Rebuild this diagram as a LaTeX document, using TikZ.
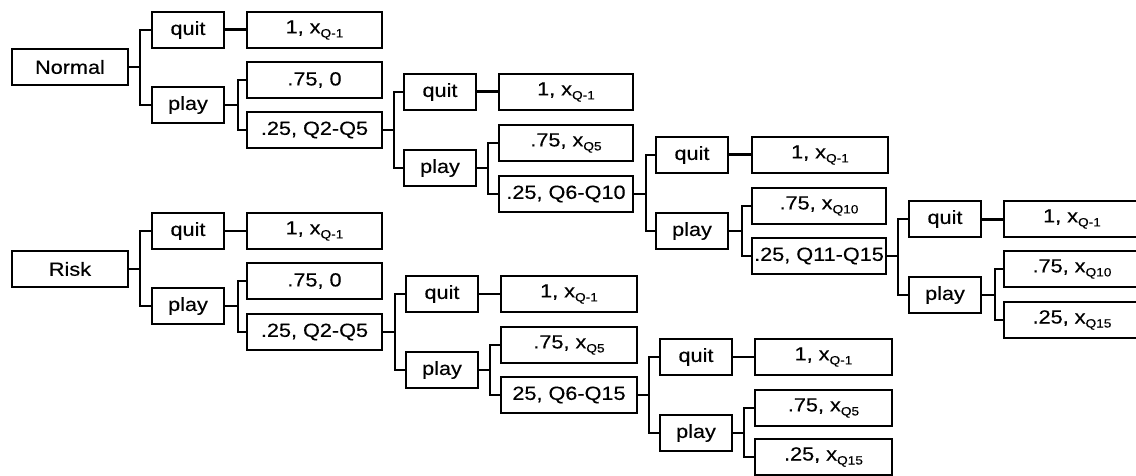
\documentclass[tikz,border=0pt]{standalone}
\usepackage{fontspec}
\setmainfont[FakeStretch=1.14,FakeBold=0.35]{Liberation Sans}
\newcommand\sbs[1]{\raisebox{-4pt}{\fontsize{12}{12}\selectfont #1}}
\begin{document}
\begin{tikzpicture}[x=1pt,y=-1pt,
  bx/.style={draw,line width=1.9pt,inner sep=0pt,minimum height=36pt,font=\fontsize{19}{21}\selectfont},
  sm/.style={bx,minimum width=72pt},
  lg/.style={bx,minimum width=136pt},
  root/.style={bx,minimum width=116pt},
  cn/.style={line width=1.4pt},
  tk/.style={line width=3pt}]
\useasboundingbox (0,0) rectangle (1136,476);
% Normal tree
\node[root] (N) at (70,67) {Normal};
\node[sm] (q1) at (188,30) {quit};
\node[lg,minimum width=135pt] (r1) at (314.5,30) {1, x\sbs{Q-1}};
\node[sm] (p1) at (188,105) {play};
\node[lg,minimum width=135pt] (a1) at (314.5,80) {.75, 0};
\node[lg,minimum width=135pt] (b1) at (314.5,130) {.25, Q2-Q5};
\node[sm] (q2) at (440,92) {quit};
\node[lg,minimum width=134pt] (r2) at (566,92) {1, x\sbs{Q-1}};
\node[sm] (p2) at (440,168) {play};
\node[lg,minimum width=134pt] (a2) at (566,143) {.75, x\sbs{Q5}};
\node[lg,minimum width=134pt] (b2) at (566,194) {.25, Q6-Q10};
\node[sm] (q3) at (692,155) {quit};
\node[lg] (r3) at (820,155) {1, x\sbs{Q-1}};
\node[sm] (p3) at (692,231) {play};
\node[lg,minimum width=134pt] (a3) at (819,206) {.75, x\sbs{Q10}};
\node[lg,minimum width=134pt] (b3) at (819,256) {.25, Q11-Q15};
\node[sm] (q4) at (945,219) {quit};
\node[lg] (r4) at (1072,219) {1, x\sbs{Q-1}};
\node[sm] (p4) at (945,295) {play};
\node[lg] (a4) at (1072,269) {.75, x\sbs{Q10}};
\node[lg] (b4) at (1072,320) {.25, x\sbs{Q15}};
% Risk tree
\node[root] (R) at (70,269) {Risk};
\node[sm] (rq1) at (188,231) {quit};
\node[lg,minimum width=135pt] (rr1) at (314.5,231) {1, x\sbs{Q-1}};
\node[sm] (rp1) at (188,306) {play};
\node[lg,minimum width=135pt] (ra1) at (314.5,281) {.75, 0};
\node[lg,minimum width=135pt] (rb1) at (314.5,332) {.25, Q2-Q5};
\node[sm] (rq2) at (442,294) {quit};
\node[lg] (rr2) at (569,294) {1, x\sbs{Q-1}};
\node[sm] (rp2) at (442,370) {play};
\node[lg] (ra2) at (569,345) {.75, x\sbs{Q5}};
\node[lg] (rb2) at (569,395) {25, Q6-Q15};
\node[sm] (rq3) at (696,357) {quit};
\node[lg,minimum width=137pt] (rr3) at (823.5,357) {1, x\sbs{Q-1}};
\node[sm] (rp3) at (696,433) {play};
\node[lg,minimum width=137pt] (ra3) at (823.5,408) {.75, x\sbs{Q5}};
\node[lg,minimum width=137pt] (rb3) at (823.5,457) {.25, x\sbs{Q15}};
% forks
\foreach \p/\a/\b/\o in {N/q1/p1/11, p1/a1/b1/13, b1/q2/p2/11, p2/a2/b2/11,
  b2/q3/p3/12, p3/a3/b3/13, b3/q4/p4/11, p4/a4/b4/13,
  R/rq1/rp1/11, rp1/ra1/rb1/13, rb1/rq2/rp2/12, rp2/ra2/rb2/11,
  rb2/rq3/rp3/11, rp3/ra3/rb3/11}{
  \draw[cn] (\p.east) -- ++(\o,0) |- (\a.west);
  \draw[cn] (\p.east) -- ++(\o,0) |- (\b.west);
}
% quit links
\foreach \a/\b in {q1/r1, q2/r2, q3/r3, q4/r4}{\draw[tk] (\a.east) -- (\b.west);}
\foreach \a/\b in {rq1/rr1, rq2/rr2, rq3/rr3}{\draw[cn] (\a.east) -- (\b.west);}
\end{tikzpicture}
\end{document}
